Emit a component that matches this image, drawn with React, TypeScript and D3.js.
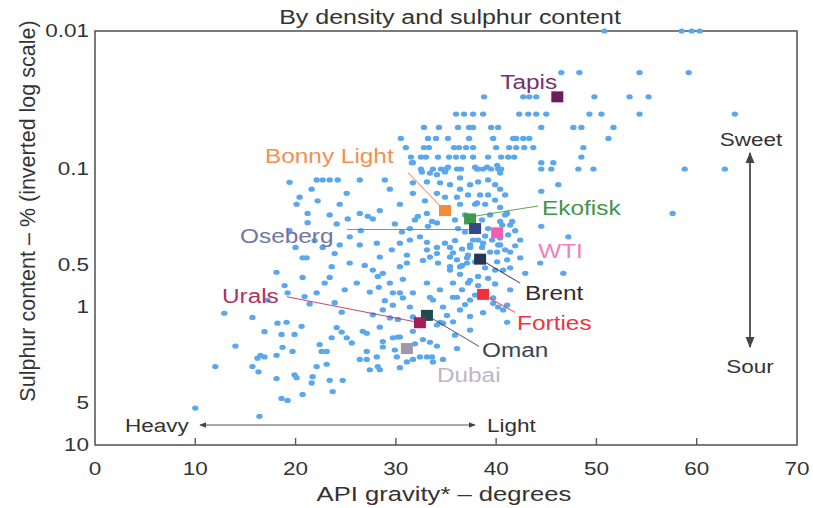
import React from "react";
import * as d3 from "d3";

// Crude oil grades: [API gravity in degrees, sulphur content in %]
const crudesLight: [number, number][] = [
  [50.8, 0.01], [58.5, 0.01], [59.5, 0.01], [60.3, 0.01],
  [46.5, 0.02], [48.3, 0.02], [54.3, 0.02], [59.2, 0.02],
  [38.8, 0.03], [42.7, 0.03], [43.3, 0.03], [44.0, 0.03], [49.8, 0.03], [53.3, 0.03], [55.2, 0.03],
  [36.0, 0.04], [36.8, 0.04], [37.7, 0.04], [38.7, 0.04], [42.3, 0.04], [43.2, 0.04], [44.0, 0.04],
  [45.0, 0.04], [49.3, 0.04], [50.5, 0.04], [54.3, 0.04], [63.8, 0.04],
  [32.8, 0.05], [34.3, 0.05], [36.2, 0.05], [37.3, 0.05], [37.7, 0.05], [39.5, 0.05], [40.2, 0.05],
  [44.5, 0.05], [47.7, 0.05], [48.5, 0.05], [51.7, 0.05],
  [30.5, 0.06], [33.2, 0.06], [34.0, 0.06], [35.2, 0.06], [37.3, 0.06], [39.7, 0.06], [41.7, 0.06],
  [42.0, 0.06], [42.7, 0.06], [43.3, 0.06], [51.2, 0.06],
  [31.0, 0.07], [32.8, 0.07], [33.3, 0.07], [35.8, 0.07], [36.3, 0.07], [37.0, 0.07], [37.7, 0.07],
  [40.0, 0.07], [41.3, 0.07], [42.0, 0.07], [42.8, 0.07], [43.7, 0.07], [48.7, 0.07],
  [31.5, 0.082], [32.5, 0.082], [33.0, 0.082], [34.2, 0.082], [35.3, 0.082], [36.0, 0.082],
  [36.7, 0.082], [37.7, 0.082], [39.2, 0.082], [40.5, 0.082], [41.2, 0.082], [41.8, 0.082], [48.5, 0.082],
  [31.7, 0.09], [44.5, 0.09], [45.7, 0.09],
  [32.5, 0.1], [33.7, 0.1], [34.5, 0.1], [35.0, 0.1], [36.5, 0.1], [38.2, 0.1], [38.7, 0.1],
  [39.5, 0.1], [40.2, 0.1], [40.5, 0.1], [44.5, 0.1], [45.5, 0.1], [48.2, 0.1], [49.7, 0.1],
  [58.8, 0.1], [62.8, 0.1],
  [46.2, 0.13], [44.5, 0.145], [57.6, 0.21], [44.5, 0.26], [47.2, 0.31],
];

// Grades around the North Sea / West African benchmarks
const crudesCore: [number, number][] = [
  [37.4, 0.13], [38.2, 0.124], [39.2, 0.12], [39.9, 0.13], [40.4, 0.14], [40.9, 0.154],
  [37.2, 0.154], [37.9, 0.18], [38.9, 0.18], [39.9, 0.168], [40.4, 0.19], [40.9, 0.215],
  [39.4, 0.215], [38.6, 0.234], [36.9, 0.215], [36.4, 0.18], [35.9, 0.234], [36.2, 0.27],
  [36.9, 0.286], [38.9, 0.306], [39.6, 0.327], [40.4, 0.316], [41.2, 0.3], [41.6, 0.24],
  [41.9, 0.28], [40.6, 0.255], [38.2, 0.327], [37.4, 0.355], [38.6, 0.37], [39.4, 0.4],
  [40.2, 0.355], [40.9, 0.385], [37.2, 0.42], [37.9, 0.47], [38.9, 0.52], [39.9, 0.54],
  [39.2, 0.62], [38.2, 0.7], [37.4, 0.64], [36.6, 0.75], [37.9, 0.82], [36.6, 0.5],
  [42.4, 0.327],
  [31.6, 0.09], [32.6, 0.105], [33.4, 0.107], [34.1, 0.11], [34.9, 0.105], [35.2, 0.097],
  [36.1, 0.1], [36.4, 0.116], [35.4, 0.13], [34.4, 0.126], [33.1, 0.124], [31.7, 0.126],
  [31.7, 0.15], [34.1, 0.15], [34.9, 0.16], [36.1, 0.16], [36.4, 0.14], [37.9, 0.097],
  [38.1, 0.1], [39.1, 0.097], [40.1, 0.094], [40.4, 0.107], [38.4, 0.154], [39.2, 0.154],
  [38.1, 0.176], [41.1, 0.21], [41.4, 0.255], [40.4, 0.24], [26.4, 0.21], [27.7, 0.23],
  [30.6, 0.286], [31.4, 0.27], [31.9, 0.234], [32.2, 0.22], [33.2, 0.26], [34.1, 0.246],
  [33.1, 0.21], [33.6, 0.24], [32.4, 0.31], [33.1, 0.34], [34.1, 0.37], [34.9, 0.345],
  [35.4, 0.37], [35.7, 0.405], [36.1, 0.455], [36.4, 0.51], [37.1, 0.44], [37.4, 0.37],
  [37.7, 0.327], [31.4, 0.327], [30.4, 0.345], [29.6, 0.385], [31.1, 0.42], [28.4, 0.435],
  [28.1, 0.345], [26.4, 0.355], [33.1, 0.385], [33.4, 0.435], [34.2, 0.48], [35.4, 0.51],
  [36.4, 0.58], [37.2, 0.67], [35.7, 0.67], [30.4, 0.51], [28.7, 0.57], [30.7, 0.63],
  [29.4, 0.67], [27.7, 0.54], [40.1, 0.4], [41.1, 0.455], [41.4, 0.4], [40.4, 0.355],
  [40.7, 0.54], [38.7, 0.345],
  [35.9, 0.33], [36.6, 0.38], [39.2, 0.27], [41.9, 0.36], [42.4, 0.44], [38.2, 0.6],
  [39.9, 0.68], [41.4, 0.75], [32.9, 0.17], [30.4, 0.18], [29.4, 0.14], [28.4, 0.2], [29.9, 0.25],
];

// Medium and sour grades
const crudesMedium: [number, number][] = [
  [40.1, 0.47], [41.4, 0.52], [42.9, 0.57], [46.7, 0.57], [44.4, 0.48],
  [31.1, 0.48], [32.7, 0.46], [34.1, 0.41], [35.4, 0.435], [35.4, 0.54], [37.1, 0.48],
  [33.1, 0.67], [34.4, 0.75], [36.1, 0.85], [33.7, 0.89], [37.4, 0.89], [39.7, 0.86],
  [40.2, 1.0], [41.1, 0.97], [30.4, 0.79], [31.7, 1.18], [34.4, 1.29], [35.7, 1.28],
  [37.4, 1.47], [30.4, 1.65], [31.7, 2.4], [33.1, 2.3], [33.7, 2.5], [34.7, 2.4], [30.4, 2.75],
  [27.7, 1.14], [29.7, 0.97], [30.7, 0.86], [31.4, 1.0], [31.7, 0.79], [33.4, 0.85],
  [34.7, 1.0], [35.7, 0.85], [36.4, 1.05], [37.4, 1.17], [38.7, 1.1], [41.1, 1.29],
  [39.7, 0.94], [40.7, 1.05], [26.7, 1.5], [28.7, 1.78], [29.7, 1.67], [31.7, 1.5],
  [27.1, 2.1], [28.1, 2.3], [30.1, 2.3], [31.1, 2.5], [32.4, 2.3], [33.6, 2.3],
  [32.7, 1.72], [33.4, 1.8], [34.1, 1.92], [36.1, 2.0], [27.4, 2.85], [28.4, 2.85],
  [26.4, 2.4], [34.7, 1.31], [34.1, 1.35],
  [29.7, 0.79], [28.7, 1.05], [30.2, 1.23], [28.4, 1.4], [27.1, 1.55], [30.2, 1.65],
  [28.7, 1.95], [27.1, 2.4], [28.2, 2.7],
  [36.9, 0.96], [35.1, 1.15], [35.9, 1.6], [29.4, 1.2], [28.9, 0.9], [31.9, 1.85], [29.9, 2.05],
];

// Heavier grades
const crudesHeavy: [number, number][] = [
  [22.1, 0.12], [22.7, 0.12], [23.4, 0.12], [24.2, 0.12], [26.4, 0.12], [28.9, 0.12],
  [21.6, 0.14], [20.4, 0.16], [25.1, 0.15], [24.4, 0.18], [21.2, 0.21], [25.2, 0.23],
  [21.2, 0.245], [24.1, 0.25], [25.4, 0.31], [22.7, 0.37], [23.9, 0.41], [20.7, 0.44],
  [21.1, 0.44], [25.4, 0.48], [23.6, 0.51], [18.1, 0.56], [20.7, 0.61], [23.4, 0.61],
  [18.9, 0.7], [22.9, 0.67], [26.1, 0.67], [27.2, 0.22], [26.5, 0.28], [28.2, 0.6], [28.3, 0.72],
  [19.4, 0.125], [20.1, 0.18], [22.2, 0.17], [23.4, 0.215], [19.4, 0.28], [21.9, 0.33],
  [20.0, 0.37], [24.4, 0.355], [26.9, 0.5], [24.9, 0.75], [27.4, 0.78], [21.4, 0.95], [17.2, 0.89],
  [19.2, 0.79], [20.9, 0.84], [22.1, 0.79], [23.9, 0.93], [24.6, 1.09], [12.9, 1.11],
  [15.7, 1.19], [18.2, 1.31], [19.1, 1.29], [20.6, 1.38], [16.9, 1.51], [18.6, 1.58],
  [19.9, 1.58], [23.6, 1.67], [24.1, 1.41], [24.6, 1.52], [25.1, 1.67], [25.6, 1.82],
  [14.0, 1.92], [18.7, 1.96], [19.7, 2.1], [16.5, 2.24], [16.9, 2.3], [18.1, 2.24],
  [16.2, 2.35], [22.4, 1.87], [22.6, 2.1], [23.1, 2.1], [12.0, 2.7], [15.7, 2.7],
  [16.3, 2.95], [18.1, 3.3], [19.9, 3.1], [20.1, 3.25], [21.7, 3.2], [21.6, 3.55],
  [22.1, 2.7], [23.1, 2.6], [23.4, 3.4], [24.7, 3.4], [23.7, 4.1], [20.7, 4.3],
  [18.6, 4.6], [19.2, 4.75], [10.0, 5.4], [16.4, 6.2],
];

// Benchmark crudes
const benchmarkNames = ["Tapis", "Bonny Light", "Ekofisk", "Oseberg", "WTI", "Brent", "Forties", "Oman", "Urals", "Dubai"];
const benchmarkApi = [46.1, 34.9, 37.4, 37.9, 40.1, 38.4, 38.7, 33.1, 32.4, 31.1];
const benchmarkSulphur = [0.03, 0.2, 0.23, 0.27, 0.29, 0.45, 0.81, 1.15, 1.3, 2.0];

const xTicks = [0, 10, 20, 30, 40, 50, 60, 70];
const yTicks = [0.01, 0.1, 0.5, 1, 5, 10];

// Label placement (pixel offsets from each square) and colours
const labelStyle: Record<string, { color: string; square: string; dx: number; dy: number; leader?: [number, number, number, number] }> = {
  "Tapis": { color: "#7a2f6e", square: "#6b1d5e", dx: -57, dy: -15 },
  "Bonny Light": { color: "#f29050", square: "#f28a3a", dx: -180, dy: -55, leader: [-5, -5, -37, -38] },
  "Ekofisk": { color: "#3f9548", square: "#3d9a4a", dx: 72, dy: -11, leader: [6, -3, 68, -13] },
  "Oseberg": { color: "#6e76a6", square: "#34478a", dx: -235, dy: 7, leader: [-5, 1, -128, 1] },
  "WTI": { color: "#f27cc2", square: "#f25fb2", dx: 41, dy: 18 },
  "Brent": { color: "#2e2e2e", square: "#263654", dx: 45, dy: 34, leader: [5, 3, 40, 24] },
  "Forties": { color: "#ee3344", square: "#f0303c", dx: 34, dy: 29, leader: [5, 3, 32, 18] },
  "Oman": { color: "#3a4656", square: "#1f4a4f", dx: 55, dy: 35, leader: [5, 3, 52, 31] },
  "Urals": { color: "#b0325e", square: "#a01e5a", dx: -198, dy: -27, leader: [-5, -1, -133, -26] },
  "Dubai": { color: "#bfb6c6", square: "#a098a8", dx: 30, dy: 26 },
};

const W = 813;
const H = 508;
const M = { left: 95, right: 797, top: 31, bottom: 445 };
const FONT = "'Liberation Sans', Arial, Helvetica, sans-serif";
const AXIS = "#5a5a5a";
const TEXT = "#333";
const STRETCH = 1.25; // lettering is set wide

type STextProps = {
  x: number;
  y: number;
  size: number;
  fill?: string;
  anchor?: "start" | "middle" | "end";
  children: React.ReactNode;
};

function SText({ x, y, size, fill = TEXT, anchor = "start", children }: STextProps) {
  return (
    <text transform={`translate(${x},${y}) scale(${STRETCH},1)`} fontSize={size} fill={fill} textAnchor={anchor}>
      {children}
    </text>
  );
}

export default function App() {
  const x = d3.scaleLinear().domain([0, 70]).range([M.left, M.right]);
  const y = d3.scaleLog().domain([0.01, 10]).range([M.top, M.bottom]);

  const crudes = [...crudesLight, ...crudesCore, ...crudesMedium, ...crudesHeavy];
  const benchmarks = benchmarkNames.map((name, i) => ({ name, api: benchmarkApi[i], sulphur: benchmarkSulphur[i] }));

  const arrowY = 425;
  const arrowX = 750;

  return (
    <svg width={W} height={H} style={{ position: "absolute", left: 0, top: 0, background: "#fff" }} fontFamily={FONT}>
      <defs>
        <marker id="arr" viewBox="0 0 10 10" refX="9" refY="5" markerWidth="7" markerHeight="7" orient="auto-start-reverse">
          <path d="M0,1 L10,5 L0,9 z" fill="#444" />
        </marker>
      </defs>

      {/* title */}
      <SText x={450} y={24} size={20} anchor="middle">By density and sulphur content</SText>

      {/* frame */}
      <rect x={M.left} y={M.top} width={M.right - M.left} height={M.bottom - M.top} fill="none" stroke={AXIS} strokeWidth={1.6} />

      {/* x ticks */}
      {xTicks.map((t) => (
        <g key={t}>
          {t > 0 && t < 70 && <line x1={x(t)} x2={x(t)} y1={M.bottom} y2={M.bottom - 7} stroke={AXIS} strokeWidth={1.4} />}
          <SText x={x(t)} y={475} size={18} anchor="middle">{t}</SText>
        </g>
      ))}

      {/* y ticks */}
      {yTicks.map((t) => (
        <SText key={t} x={89} y={y(t) + 6} size={18} anchor="end">{t}</SText>
      ))}

      {/* axis titles */}
      <SText x={444} y={501} size={20.5} anchor="middle">API gravity* – degrees</SText>
      <text transform={`translate(35,211) rotate(-90)`} textAnchor="middle" fontSize={21.5} fill={TEXT}>
        Sulphur content – % (inverted log scale)
      </text>

      {/* crude oils */}
      <g fill="#5aa7ee">
        {crudes.map(([api, s], i) => (
          <ellipse key={i} cx={x(api)} cy={y(s)} rx={3.2} ry={2.6} />
        ))}
      </g>

      {/* leader lines */}
      {benchmarks.map((b) => {
        const st = labelStyle[b.name];
        if (!st.leader) return null;
        const cx = x(b.api);
        const cy = y(b.sulphur);
        return (
          <line key={b.name} x1={cx + st.leader[0]} y1={cy + st.leader[1]} x2={cx + st.leader[2]} y2={cy + st.leader[3]} stroke={st.color} strokeWidth={1.1} opacity={0.85} />
        );
      })}

      {/* benchmark squares */}
      {benchmarks.map((b) => {
        const st = labelStyle[b.name];
        return <rect key={b.name} x={x(b.api) - 6} y={y(b.sulphur) - 5.5} width={12} height={11} fill={st.square} />;
      })}

      {/* benchmark labels */}
      {benchmarks.map((b) => {
        const st = labelStyle[b.name];
        return (
          <SText key={b.name} x={x(b.api) + st.dx} y={y(b.sulphur) + st.dy + 7} size={19.5} fill={st.color}>
            {b.name}
          </SText>
        );
      })}

      {/* heavy / light arrow */}
      <line x1={200} x2={475} y1={arrowY} y2={arrowY} stroke="#555" strokeWidth={1} markerStart="url(#arr)" markerEnd="url(#arr)" />
      <SText x={125} y={arrowY + 7} size={18}>Heavy</SText>
      <SText x={487} y={arrowY + 7} size={18}>Light</SText>

      {/* sweet / sour arrow */}
      <line x1={arrowX} x2={arrowX} y1={153} y2={347} stroke="#333" strokeWidth={1.6} markerStart="url(#arr)" markerEnd="url(#arr)" />
      <SText x={arrowX + 1} y={146} size={18} anchor="middle">Sweet</SText>
      <SText x={arrowX} y={373} size={18} anchor="middle">Sour</SText>
    </svg>
  );
}
